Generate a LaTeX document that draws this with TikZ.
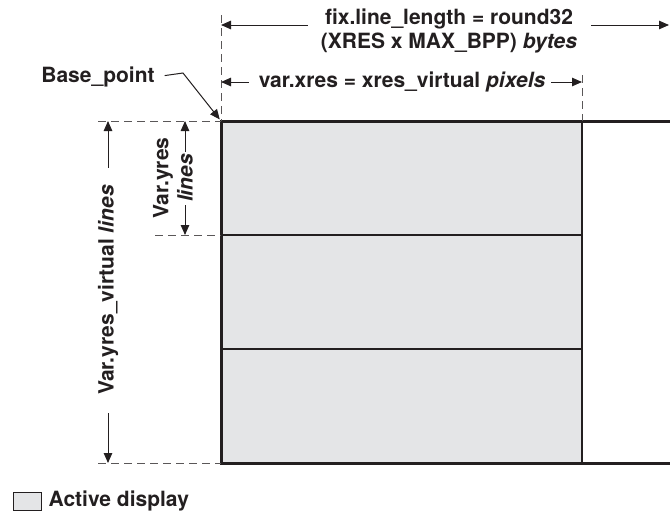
\documentclass[tikz,border=0pt]{standalone}
\usepackage{fontspec}
\setmainfont{TeX Gyre Heros}
\usepackage{xcolor}
\usetikzlibrary{arrows.meta}
\usetikzlibrary{positioning}
\tikzset{>=stealth}

\definecolor{activegray}{RGB}{228,229,231}
\definecolor{inkdark}{RGB}{35,31,32}

\begin{document}
\begin{tikzpicture}
	[x=1pt,y=-1pt,
	font=\fontsize{21}{24}\selectfont\bfseries,
	lbl/.style={inner sep=0pt,text=inkdark},
	dimline/.style={draw=inkdark,line width=1pt,-{Triangle[length=10pt,width=8.5pt]}},
	guide/.style={draw=inkdark!75,line width=1pt,dash pattern=on 8pt off 5pt},
	frame/.style={draw=inkdark,line width=3pt,line cap=rect},
	divider/.style={draw=inkdark,line width=2pt}]
	\useasboundingbox (0,0) rectangle (670,512);
	% buffer corners
	\coordinate (base) at (221,121);
	\coordinate (topR) at (670,121);
	\coordinate (botL) at (221,463);
	\coordinate (botR) at (670,463);
	\coordinate (actTR) at (582,121);
	\coordinate (actBR) at (582,463);
	\coordinate (div1L) at (221,235);
	\coordinate (div1R) at (582,235);
	\coordinate (div2L) at (221,349);
	\coordinate (div2R) at (582,349);
	% active area
	\fill[activegray] (base) rectangle (actBR);
	\draw[divider] (div1L) -- (div1R);
	\draw[divider] (div2L) -- (div2R);
	\draw[divider,line width=2.5pt] (actTR) -- (actBR);
	\draw[frame] (topR) -- (base) -- (botL) -- (botR);
	% guide lines
	\coordinate (gTop) at (221,15);
	\coordinate (gXres) at (582,75);
	\coordinate (gA) at (98,121);
	\coordinate (gB) at (155,235);
	\coordinate (gC) at (98,463);
	\draw[guide] (gTop) -- (base);
	\draw[guide] (gXres) -- (actTR);
	\draw[guide] (gA) -- (base);
	\draw[guide] (gB) -- (div1L);
	\draw[guide] (gC) -- (botL);
	% line length
	\node [lbl,align=center] (fix) at (449,31) {fix.line\_length = round32\\(XRES x MAX\_BPP) \textit{bytes}};
	\coordinate (fixL) at (221,25);
	\coordinate (fixR) at (669,25);
	\draw[dimline] (fix.west |- fixL) [shorten <=13pt] -- (fixL);
	\draw[dimline] (fix.east |- fixR) [shorten <=14pt] -- (fixR);
	% xres
	\node [lbl] (xres) at (402,82) {var.xres = xres\_virtual \textit{pixels}};
	\coordinate (xresL) at (221,82);
	\coordinate (xresR) at (582,82);
	\draw[dimline] (xres.west) [shorten <=10pt] -- (xresL);
	\draw[dimline] (xres.east) [shorten <=6pt] -- (xresR);
	% base point
	\node [lbl] (bp) at (98,77) {Base\_point};
	\coordinate (bpk) at (183,73);
	\draw[dimline] (bp.east) [shorten <=10pt,shorten >=2pt] -- (bpk) -- (base);
	% yres virtual
	\node [lbl,rotate=90] (vyv) at (108,290) {Var.yres\_virtual \textit{lines}};
	\draw[dimline] (vyv.east) [shorten <=17pt] -- (vyv.east |- base);
	\draw[dimline] (vyv.west) [shorten <=18pt] -- (vyv.west |- botL);
	% yres
	\node [lbl,rotate=90] (vyres) at (163,178) {Var.yres};
	\node [lbl,rotate=90] (vylines) at (185,178) {\textit{lines}};
	\draw[dimline] (vylines.east) [shorten <=2pt] -- (vylines.east |- base);
	\draw[dimline] (vylines.west) [shorten <=3pt] -- (vylines.west |- div1L);
	% legend
	\node [draw=inkdark,line width=1pt,fill=activegray,minimum width=28pt,minimum height=18pt,inner sep=0pt] (legbox) at (27,501) {};
	\node [lbl,right=7pt of legbox] (legtext) {Active display};
\end{tikzpicture}
\end{document}
